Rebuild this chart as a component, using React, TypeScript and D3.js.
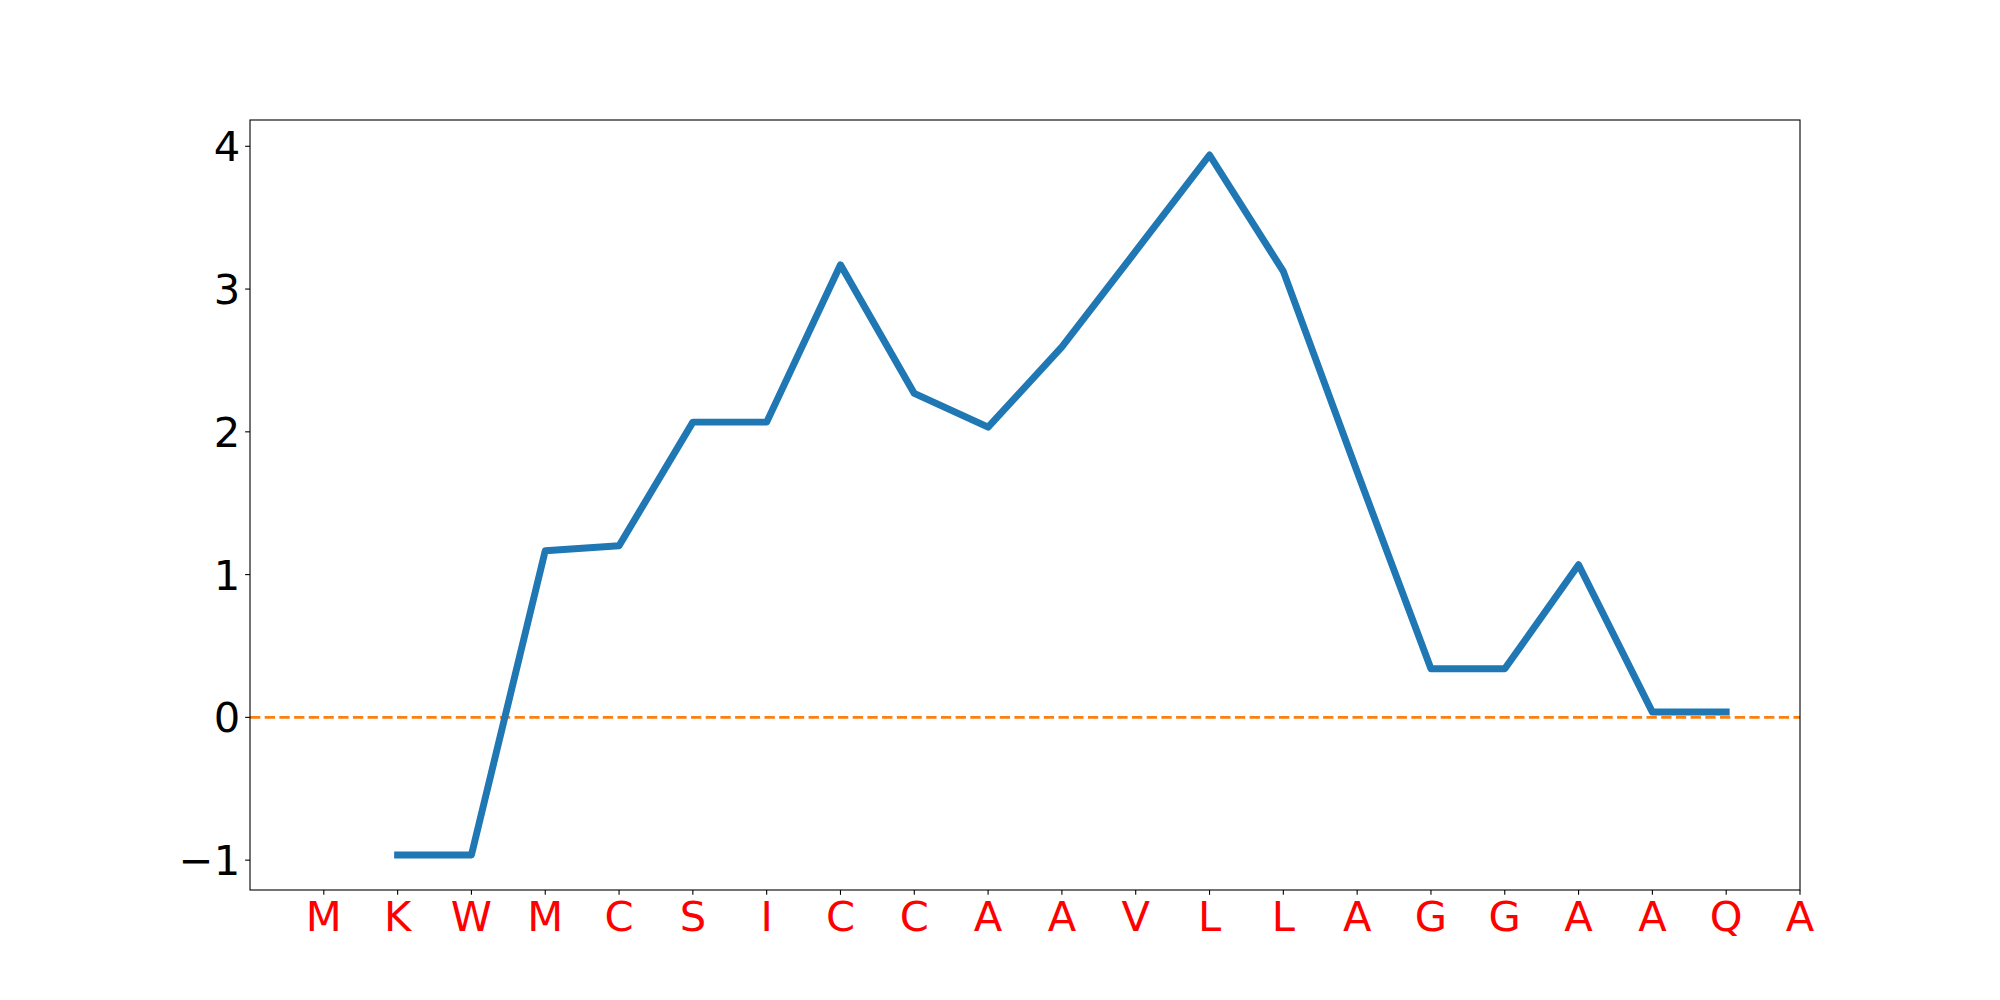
import React from "react";
import * as d3 from "d3";

const residues = ["M", "K", "W", "M", "C", "S", "I", "C", "C", "A", "A", "V", "L", "L", "A", "G", "G", "A", "A", "Q", "A"];
const positions = [1, 2, 3, 4, 5, 6, 7, 8, 9, 10, 11, 12, 13, 14, 15, 16, 17, 18, 19];
const values = [-0.964, -0.964, 1.167, 1.202, 2.068, 2.068, 3.17, 2.269, 2.033, 2.595, 3.265, 3.939, 3.124, 1.72, 0.34, 0.34, 1.069, 0.037, 0.037];
const yTicks = [-1, 0, 1, 2, 3, 4];

const W = 2000;
const H = 1000;
const L = 250, R = 1800, T = 120, B = 890;
const FONT = "DejaVu Sans";
const FS = 41.67;

export default function App() {
  const x = d3.scaleLinear().domain([-1, residues.length - 1]).range([L, R]);
  const ymin = d3.min(values)!;
  const ymax = d3.max(values)!;
  const pad = (ymax - ymin) * 0.05;
  const y = d3.scaleLinear().domain([ymin - pad, ymax + pad]).range([B, T]);
  const pts: [number, number][] = positions.map((p, i) => [x(p), y(values[i])]);
  const line = d3.line<[number, number]>().x((d) => d[0]).y((d) => d[1]);
  const tickLen = 4.86;
  const tickPad = 4.86;
  return (
    <svg width={W} height={H} style={{ position: "absolute", left: 0, top: 0, background: "#fff" }}>
      <rect x={0} y={0} width={W} height={H} fill="#fff" />
      <line x1={L} x2={R} y1={y(0)} y2={y(0)} stroke="#ff7f0e" strokeWidth={2.78} strokeDasharray="10.3 4.4" />
      <path d={line(pts) || ""} fill="none" stroke="#1f77b4" strokeWidth={6.94} strokeLinejoin="round" strokeLinecap="square" />
      <rect x={L} y={T} width={R - L} height={B - T} fill="none" stroke="#000" strokeWidth={1.1} />
      {yTicks.map((t) => (
        <g key={"y" + t}>
          <line x1={L - tickLen} x2={L} y1={y(t)} y2={y(t)} stroke="#000" strokeWidth={1.1} />
          <text x={L - tickLen - tickPad} y={y(t)} dy="0.36em" textAnchor="end" fontFamily={FONT} fontSize={FS} fill="#000">
            {t < 0 ? "\u2212" + Math.abs(t) : String(t)}
          </text>
        </g>
      ))}
      {residues.map((r, i) => (
        <g key={"x" + i}>
          <line x1={x(i)} x2={x(i)} y1={B} y2={B + tickLen} stroke="#000" strokeWidth={1.1} />
          <text x={x(i)} y={B + tickLen + tickPad} dy="0.76em" textAnchor="middle" fontFamily={FONT} fontSize={FS} fill="#ff0000">
            {r}
          </text>
        </g>
      ))}
    </svg>
  );
}
